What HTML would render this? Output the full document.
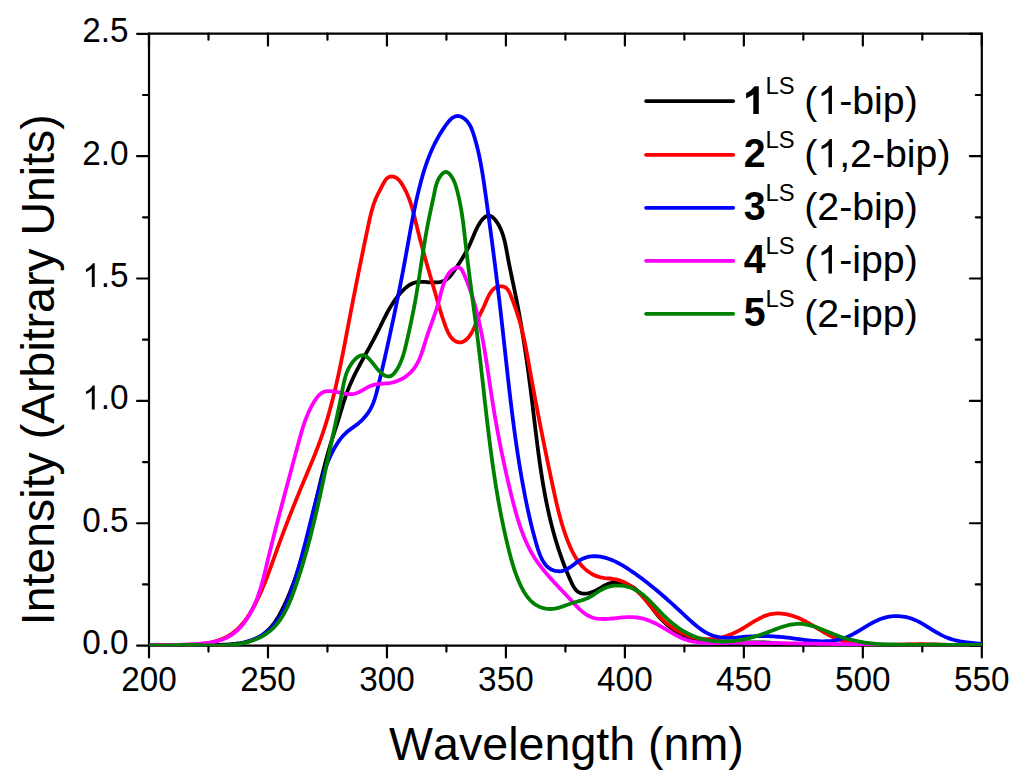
<!DOCTYPE html>
<html><head><meta charset="utf-8"><style>
html,body{margin:0;padding:0;background:#fff;width:1024px;height:780px;overflow:hidden}
svg{display:block}
text{font-family:"Liberation Sans",sans-serif;fill:#000;font-kerning:none}
</style></head><body>
<svg width="1024" height="780" viewBox="0 0 1024 780">
<rect width="1024" height="780" fill="#fff"/>
<defs><clipPath id="pc"><rect x="149" y="0" width="832.8" height="646.0"/></clipPath></defs>
<path d="M149.0,645.6 L149.0,33.7 L981.8,33.7 L981.8,645.6 Z" fill="none" stroke="#000" stroke-width="2.2" stroke-linejoin="round"/>
<line x1="149.00" y1="645.6" x2="149.00" y2="657.5" stroke="#000" stroke-width="2.2" stroke-linecap="round"/>
<line x1="149.00" y1="33.7" x2="149.00" y2="45.6" stroke="#000" stroke-width="2.2" stroke-linecap="round"/>
<line x1="208.49" y1="645.6" x2="208.49" y2="651.6" stroke="#000" stroke-width="2.2" stroke-linecap="round"/>
<line x1="208.49" y1="33.7" x2="208.49" y2="39.7" stroke="#000" stroke-width="2.2" stroke-linecap="round"/>
<line x1="267.97" y1="645.6" x2="267.97" y2="657.5" stroke="#000" stroke-width="2.2" stroke-linecap="round"/>
<line x1="267.97" y1="33.7" x2="267.97" y2="45.6" stroke="#000" stroke-width="2.2" stroke-linecap="round"/>
<line x1="327.46" y1="645.6" x2="327.46" y2="651.6" stroke="#000" stroke-width="2.2" stroke-linecap="round"/>
<line x1="327.46" y1="33.7" x2="327.46" y2="39.7" stroke="#000" stroke-width="2.2" stroke-linecap="round"/>
<line x1="386.94" y1="645.6" x2="386.94" y2="657.5" stroke="#000" stroke-width="2.2" stroke-linecap="round"/>
<line x1="386.94" y1="33.7" x2="386.94" y2="45.6" stroke="#000" stroke-width="2.2" stroke-linecap="round"/>
<line x1="446.43" y1="645.6" x2="446.43" y2="651.6" stroke="#000" stroke-width="2.2" stroke-linecap="round"/>
<line x1="446.43" y1="33.7" x2="446.43" y2="39.7" stroke="#000" stroke-width="2.2" stroke-linecap="round"/>
<line x1="505.91" y1="645.6" x2="505.91" y2="657.5" stroke="#000" stroke-width="2.2" stroke-linecap="round"/>
<line x1="505.91" y1="33.7" x2="505.91" y2="45.6" stroke="#000" stroke-width="2.2" stroke-linecap="round"/>
<line x1="565.40" y1="645.6" x2="565.40" y2="651.6" stroke="#000" stroke-width="2.2" stroke-linecap="round"/>
<line x1="565.40" y1="33.7" x2="565.40" y2="39.7" stroke="#000" stroke-width="2.2" stroke-linecap="round"/>
<line x1="624.89" y1="645.6" x2="624.89" y2="657.5" stroke="#000" stroke-width="2.2" stroke-linecap="round"/>
<line x1="624.89" y1="33.7" x2="624.89" y2="45.6" stroke="#000" stroke-width="2.2" stroke-linecap="round"/>
<line x1="684.37" y1="645.6" x2="684.37" y2="651.6" stroke="#000" stroke-width="2.2" stroke-linecap="round"/>
<line x1="684.37" y1="33.7" x2="684.37" y2="39.7" stroke="#000" stroke-width="2.2" stroke-linecap="round"/>
<line x1="743.86" y1="645.6" x2="743.86" y2="657.5" stroke="#000" stroke-width="2.2" stroke-linecap="round"/>
<line x1="743.86" y1="33.7" x2="743.86" y2="45.6" stroke="#000" stroke-width="2.2" stroke-linecap="round"/>
<line x1="803.34" y1="645.6" x2="803.34" y2="651.6" stroke="#000" stroke-width="2.2" stroke-linecap="round"/>
<line x1="803.34" y1="33.7" x2="803.34" y2="39.7" stroke="#000" stroke-width="2.2" stroke-linecap="round"/>
<line x1="862.83" y1="645.6" x2="862.83" y2="657.5" stroke="#000" stroke-width="2.2" stroke-linecap="round"/>
<line x1="862.83" y1="33.7" x2="862.83" y2="45.6" stroke="#000" stroke-width="2.2" stroke-linecap="round"/>
<line x1="922.31" y1="645.6" x2="922.31" y2="651.6" stroke="#000" stroke-width="2.2" stroke-linecap="round"/>
<line x1="922.31" y1="33.7" x2="922.31" y2="39.7" stroke="#000" stroke-width="2.2" stroke-linecap="round"/>
<line x1="981.80" y1="645.6" x2="981.80" y2="657.5" stroke="#000" stroke-width="2.2" stroke-linecap="round"/>
<line x1="981.80" y1="33.7" x2="981.80" y2="45.6" stroke="#000" stroke-width="2.2" stroke-linecap="round"/>
<line x1="137.1" y1="645.60" x2="149.0" y2="645.60" stroke="#000" stroke-width="2.2" stroke-linecap="round"/>
<line x1="969.9" y1="645.60" x2="981.8" y2="645.60" stroke="#000" stroke-width="2.2" stroke-linecap="round"/>
<line x1="143.0" y1="584.42" x2="149.0" y2="584.42" stroke="#000" stroke-width="2.2" stroke-linecap="round"/>
<line x1="975.8" y1="584.42" x2="981.8" y2="584.42" stroke="#000" stroke-width="2.2" stroke-linecap="round"/>
<line x1="137.1" y1="523.24" x2="149.0" y2="523.24" stroke="#000" stroke-width="2.2" stroke-linecap="round"/>
<line x1="969.9" y1="523.24" x2="981.8" y2="523.24" stroke="#000" stroke-width="2.2" stroke-linecap="round"/>
<line x1="143.0" y1="462.06" x2="149.0" y2="462.06" stroke="#000" stroke-width="2.2" stroke-linecap="round"/>
<line x1="975.8" y1="462.06" x2="981.8" y2="462.06" stroke="#000" stroke-width="2.2" stroke-linecap="round"/>
<line x1="137.1" y1="400.88" x2="149.0" y2="400.88" stroke="#000" stroke-width="2.2" stroke-linecap="round"/>
<line x1="969.9" y1="400.88" x2="981.8" y2="400.88" stroke="#000" stroke-width="2.2" stroke-linecap="round"/>
<line x1="143.0" y1="339.70" x2="149.0" y2="339.70" stroke="#000" stroke-width="2.2" stroke-linecap="round"/>
<line x1="975.8" y1="339.70" x2="981.8" y2="339.70" stroke="#000" stroke-width="2.2" stroke-linecap="round"/>
<line x1="137.1" y1="278.52" x2="149.0" y2="278.52" stroke="#000" stroke-width="2.2" stroke-linecap="round"/>
<line x1="969.9" y1="278.52" x2="981.8" y2="278.52" stroke="#000" stroke-width="2.2" stroke-linecap="round"/>
<line x1="143.0" y1="217.34" x2="149.0" y2="217.34" stroke="#000" stroke-width="2.2" stroke-linecap="round"/>
<line x1="975.8" y1="217.34" x2="981.8" y2="217.34" stroke="#000" stroke-width="2.2" stroke-linecap="round"/>
<line x1="137.1" y1="156.16" x2="149.0" y2="156.16" stroke="#000" stroke-width="2.2" stroke-linecap="round"/>
<line x1="969.9" y1="156.16" x2="981.8" y2="156.16" stroke="#000" stroke-width="2.2" stroke-linecap="round"/>
<line x1="143.0" y1="94.98" x2="149.0" y2="94.98" stroke="#000" stroke-width="2.2" stroke-linecap="round"/>
<line x1="975.8" y1="94.98" x2="981.8" y2="94.98" stroke="#000" stroke-width="2.2" stroke-linecap="round"/>
<line x1="137.1" y1="33.80" x2="149.0" y2="33.80" stroke="#000" stroke-width="2.2" stroke-linecap="round"/>
<line x1="969.9" y1="33.80" x2="981.8" y2="33.80" stroke="#000" stroke-width="2.2" stroke-linecap="round"/>

<g clip-path="url(#pc)">
<path d="M148.71,645.49 L150.91,645.49 L153.08,645.49 L155.24,645.49 L157.38,645.49 L159.50,645.50 L161.60,645.50 L163.69,645.51 L165.76,645.51 L167.82,645.51 L169.87,645.52 L171.91,645.52 L173.94,645.52 L175.96,645.53 L177.97,645.53 L179.98,645.53 L181.98,645.52 L183.98,645.52 L185.98,645.51 L187.97,645.51 L189.97,645.49 L191.97,645.48 L193.97,645.46 L195.98,645.44 L197.99,645.42 L200.01,645.39 L202.03,645.36 L204.07,645.33 L206.12,645.29 L208.17,645.24 L210.24,645.20 L212.33,645.14 L214.43,645.08 L216.54,645.02 L218.68,644.95 L220.82,644.87 L222.98,644.77 L225.15,644.66 L227.31,644.53 L229.48,644.38 L231.64,644.20 L233.79,643.98 L235.94,643.74 L238.06,643.45 L240.17,643.13 L242.26,642.76 L244.32,642.34 L246.35,641.87 L248.34,641.34 L250.30,640.75 L252.22,640.11 L254.10,639.39 L255.93,638.61 L257.70,637.75 L259.42,636.82 L261.09,635.80 L262.69,634.71 L264.25,633.55 L265.74,632.32 L267.19,631.02 L268.59,629.65 L269.94,628.23 L271.25,626.75 L272.51,625.22 L273.73,623.63 L274.91,622.00 L276.05,620.33 L277.16,618.62 L278.23,616.87 L279.27,615.09 L280.28,613.28 L281.26,611.45 L282.22,609.59 L283.15,607.71 L284.05,605.82 L284.94,603.91 L285.81,602.00 L286.66,600.08 L287.49,598.16 L288.31,596.23 L289.11,594.30 L289.90,592.37 L290.68,590.44 L291.44,588.50 L292.19,586.56 L292.92,584.62 L293.64,582.68 L294.35,580.73 L295.04,578.78 L295.72,576.83 L296.40,574.88 L297.06,572.92 L297.70,570.97 L298.34,569.01 L298.97,567.04 L299.58,565.08 L300.19,563.11 L300.79,561.15 L301.38,559.18 L301.96,557.21 L302.53,555.23 L303.09,553.26 L303.64,551.28 L304.19,549.30 L304.73,547.33 L305.26,545.34 L305.79,543.36 L306.31,541.38 L306.82,539.40 L307.33,537.41 L307.83,535.42 L308.33,533.44 L308.82,531.45 L309.31,529.46 L309.79,527.47 L310.27,525.47 L310.75,523.48 L311.22,521.49 L311.69,519.50 L312.16,517.50 L312.63,515.51 L313.09,513.51 L313.55,511.52 L314.02,509.52 L314.48,507.52 L314.94,505.53 L315.40,503.53 L315.86,501.53 L316.32,499.53 L316.78,497.54 L317.24,495.54 L317.71,493.54 L318.17,491.54 L318.64,489.55 L319.11,487.55 L319.58,485.55 L320.06,483.56 L320.54,481.56 L321.02,479.57 L321.51,477.57 L322.00,475.58 L322.49,473.58 L322.99,471.59 L323.50,469.60 L324.01,467.61 L324.53,465.61 L325.05,463.62 L325.58,461.64 L326.12,459.65 L326.66,457.66 L327.21,455.68 L327.77,453.69 L328.34,451.71 L328.92,449.73 L329.50,447.75 L330.09,445.77 L330.70,443.79 L331.31,441.81 L331.93,439.84 L332.55,437.86 L333.18,435.89 L333.81,433.92 L334.45,431.95 L335.08,429.98 L335.71,428.01 L336.35,426.04 L336.98,424.08 L337.61,422.11 L338.23,420.14 L338.84,418.18 L339.45,416.21 L340.05,414.25 L340.64,412.29 L341.23,410.32 L341.82,408.36 L342.41,406.41 L343.00,404.45 L343.60,402.50 L344.21,400.56 L344.84,398.62 L345.48,396.69 L346.15,394.77 L346.83,392.85 L347.55,390.94 L348.29,389.04 L349.05,387.15 L349.84,385.27 L350.65,383.39 L351.49,381.52 L352.34,379.66 L353.21,377.80 L354.11,375.95 L355.01,374.11 L355.93,372.27 L356.87,370.43 L357.82,368.60 L358.78,366.77 L359.75,364.95 L360.73,363.13 L361.71,361.31 L362.70,359.49 L363.70,357.68 L364.70,355.87 L365.70,354.06 L366.71,352.25 L367.71,350.44 L368.71,348.63 L369.71,346.82 L370.70,345.00 L371.69,343.19 L372.67,341.38 L373.64,339.56 L374.61,337.74 L375.56,335.92 L376.50,334.09 L377.43,332.26 L378.34,330.43 L379.25,328.60 L380.14,326.76 L381.04,324.93 L381.93,323.10 L382.83,321.27 L383.74,319.44 L384.65,317.62 L385.57,315.81 L386.51,314.00 L387.47,312.20 L388.45,310.42 L389.46,308.64 L390.49,306.88 L391.55,305.13 L392.64,303.40 L393.77,301.69 L394.95,299.99 L396.16,298.31 L397.42,296.65 L398.73,295.01 L400.09,293.40 L401.51,291.81 L402.98,290.28 L404.51,288.81 L406.09,287.43 L407.73,286.15 L409.42,285.01 L411.18,284.02 L412.99,283.19 L414.86,282.56 L416.79,282.13 L418.77,281.89 L420.79,281.81 L422.86,281.84 L424.95,281.95 L427.06,282.11 L429.18,282.27 L431.31,282.40 L433.42,282.46 L435.52,282.44 L437.58,282.31 L439.59,282.05 L441.53,281.64 L443.39,281.05 L445.15,280.28 L446.79,279.29 L448.32,278.08 L449.73,276.67 L451.06,275.11 L452.32,273.45 L453.54,271.72 L454.74,269.98 L455.92,268.23 L457.09,266.49 L458.24,264.75 L459.38,263.01 L460.50,261.27 L461.60,259.53 L462.67,257.78 L463.73,256.02 L464.76,254.25 L465.76,252.48 L466.73,250.70 L467.67,248.90 L468.58,247.10 L469.46,245.27 L470.30,243.43 L471.11,241.58 L471.89,239.71 L472.66,237.82 L473.44,235.91 L474.24,233.99 L475.07,232.06 L475.95,230.11 L476.90,228.15 L477.92,226.18 L479.04,224.20 L480.26,222.25 L481.56,220.42 L482.95,218.78 L484.40,217.41 L485.92,216.41 L487.49,215.83 L489.09,215.73 L490.67,216.10 L492.18,216.92 L493.62,218.11 L494.98,219.58 L496.24,221.22 L497.41,222.94 L498.48,224.70 L499.46,226.50 L500.36,228.34 L501.19,230.21 L501.94,232.12 L502.63,234.06 L503.26,236.03 L503.84,238.02 L504.37,240.03 L504.86,242.05 L505.32,244.09 L505.74,246.15 L506.15,248.21 L506.53,250.27 L506.91,252.34 L507.28,254.41 L507.66,256.47 L508.03,258.53 L508.42,260.57 L508.82,262.62 L509.22,264.65 L509.62,266.68 L510.03,268.71 L510.45,270.73 L510.86,272.74 L511.29,274.75 L511.71,276.76 L512.13,278.77 L512.56,280.77 L512.98,282.77 L513.41,284.77 L513.83,286.77 L514.25,288.77 L514.66,290.77 L515.08,292.77 L515.49,294.78 L515.89,296.78 L516.29,298.78 L516.69,300.79 L517.08,302.80 L517.47,304.81 L517.85,306.82 L518.23,308.83 L518.61,310.84 L518.98,312.86 L519.34,314.87 L519.71,316.89 L520.07,318.91 L520.42,320.93 L520.78,322.95 L521.13,324.97 L521.47,326.99 L521.81,329.01 L522.15,331.04 L522.49,333.07 L522.82,335.09 L523.14,337.12 L523.47,339.15 L523.79,341.18 L524.11,343.21 L524.42,345.24 L524.74,347.27 L525.05,349.30 L525.35,351.34 L525.66,353.37 L525.96,355.41 L526.25,357.44 L526.55,359.48 L526.84,361.52 L527.13,363.55 L527.42,365.59 L527.70,367.63 L527.99,369.67 L528.26,371.71 L528.54,373.75 L528.82,375.79 L529.09,377.84 L529.36,379.88 L529.63,381.92 L529.90,383.96 L530.16,386.01 L530.42,388.05 L530.68,390.10 L530.94,392.14 L531.20,394.19 L531.45,396.23 L531.71,398.28 L531.96,400.32 L532.21,402.37 L532.46,404.42 L532.70,406.46 L532.95,408.51 L533.20,410.56 L533.44,412.60 L533.68,414.65 L533.93,416.70 L534.17,418.74 L534.42,420.79 L534.66,422.84 L534.91,424.88 L535.15,426.93 L535.40,428.97 L535.65,431.02 L535.89,433.06 L536.14,435.11 L536.40,437.15 L536.65,439.20 L536.90,441.24 L537.16,443.28 L537.42,445.33 L537.68,447.37 L537.95,449.41 L538.22,451.45 L538.49,453.49 L538.76,455.53 L539.04,457.57 L539.32,459.60 L539.60,461.64 L539.89,463.67 L540.19,465.71 L540.48,467.74 L540.79,469.78 L541.09,471.81 L541.41,473.84 L541.72,475.87 L542.04,477.89 L542.37,479.92 L542.71,481.95 L543.04,483.97 L543.39,485.99 L543.74,488.02 L544.10,490.04 L544.46,492.06 L544.84,494.07 L545.21,496.09 L545.60,498.10 L545.99,500.12 L546.39,502.13 L546.80,504.14 L547.22,506.14 L547.64,508.15 L548.07,510.15 L548.51,512.16 L548.96,514.16 L549.42,516.16 L549.89,518.15 L550.37,520.15 L550.85,522.14 L551.35,524.13 L551.85,526.12 L552.37,528.11 L552.89,530.09 L553.43,532.07 L553.97,534.05 L554.53,536.03 L555.10,538.01 L555.68,539.98 L556.27,541.95 L556.87,543.92 L557.48,545.89 L558.11,547.85 L558.75,549.81 L559.39,551.77 L560.06,553.73 L560.73,555.68 L561.42,557.63 L562.12,559.58 L562.83,561.52 L563.56,563.47 L564.30,565.40 L565.05,567.34 L565.82,569.28 L566.60,571.21 L567.39,573.13 L568.20,575.06 L569.03,576.98 L569.87,578.90 L570.72,580.81 L571.59,582.73 L572.49,584.61 L573.45,586.42 L574.49,588.12 L575.63,589.66 L576.91,590.99 L578.35,592.08 L579.97,592.89 L581.78,593.38 L583.73,593.60 L585.78,593.56 L587.89,593.29 L590.02,592.81 L592.12,592.16 L594.14,591.35 L596.08,590.43 L597.94,589.42 L599.76,588.36 L601.54,587.28 L603.32,586.24 L605.12,585.26 L606.95,584.38 L608.84,583.64 L610.81,583.07 L612.86,582.69 L614.96,582.48 L617.09,582.44 L619.22,582.55 L621.34,582.82 L623.43,583.22 L625.45,583.76 L627.40,584.43 L629.26,585.21 L631.04,586.10 L632.74,587.10 L634.38,588.19 L635.95,589.37 L637.47,590.63 L638.94,591.97 L640.35,593.38 L641.73,594.84 L643.07,596.36 L644.39,597.93 L645.68,599.53 L646.95,601.17 L648.20,602.83 L649.45,604.51 L650.70,606.19 L651.95,607.89 L653.21,609.58 L654.49,611.25 L655.78,612.91 L657.10,614.55 L658.45,616.15 L659.84,617.71 L661.26,619.24 L662.72,620.73 L664.20,622.17 L665.72,623.58 L667.27,624.94 L668.85,626.26 L670.46,627.53 L672.10,628.76 L673.77,629.94 L675.47,631.07 L677.19,632.15 L678.94,633.18 L680.72,634.16 L682.52,635.09 L684.35,635.96 L686.20,636.78 L688.07,637.54 L689.97,638.24 L691.89,638.89 L693.83,639.48 L695.79,640.01 L697.77,640.50 L699.76,640.93 L701.77,641.32 L703.79,641.66 L705.83,641.96 L707.88,642.22 L709.93,642.44 L712.00,642.63 L714.07,642.78 L716.15,642.90 L718.23,643.00 L720.31,643.06 L722.40,643.10 L724.48,643.12 L726.57,643.12 L728.65,643.10 L730.72,643.06 L732.80,643.01 L734.86,642.95 L736.92,642.88 L738.96,642.81 L741.00,642.73 L743.02,642.65 L745.04,642.57 L747.05,642.49 L749.05,642.42 L751.05,642.36 L753.05,642.32 L755.04,642.29 L757.05,642.28 L759.05,642.30 L761.06,642.34 L763.08,642.41 L765.11,642.51 L767.14,642.63 L769.19,642.77 L771.23,642.93 L773.29,643.10 L775.34,643.28 L777.40,643.45 L779.46,643.63 L781.52,643.80 L783.59,643.96 L785.65,644.11 L787.71,644.24 L789.77,644.37 L791.83,644.48 L793.89,644.57 L795.95,644.66 L798.01,644.74 L800.07,644.81 L802.13,644.86 L804.19,644.91 L806.24,644.95 L808.30,644.98 L810.36,645.00 L812.41,645.02 L814.47,645.03 L816.53,645.04 L818.58,645.03 L820.64,645.03 L822.69,645.02 L824.75,645.00 L826.80,644.98 L828.86,644.96 L830.91,644.93 L832.97,644.91 L835.02,644.88 L837.08,644.85 L839.13,644.82 L841.19,644.79 L843.24,644.76 L845.30,644.73 L847.35,644.70 L849.40,644.68 L851.46,644.66 L853.52,644.64 L855.57,644.62 L857.63,644.60 L859.68,644.59 L861.74,644.58 L863.79,644.56 L865.85,644.56 L867.90,644.55 L869.96,644.55 L872.02,644.54 L874.07,644.54 L876.13,644.54 L878.18,644.54 L880.24,644.54 L882.30,644.55 L884.35,644.55 L886.41,644.56 L888.47,644.56 L890.52,644.57 L892.58,644.58 L894.64,644.59 L896.69,644.60 L898.75,644.61 L900.81,644.62 L902.86,644.63 L904.92,644.64 L906.98,644.65 L909.03,644.67 L911.09,644.68 L913.15,644.69 L915.20,644.70 L917.26,644.71 L919.32,644.72 L921.37,644.73 L923.43,644.75 L925.49,644.76 L927.54,644.77 L929.60,644.77 L931.66,644.78 L933.71,644.79 L935.77,644.80 L937.83,644.80 L939.88,644.81 L941.94,644.81 L943.99,644.81 L946.05,644.81 L948.11,644.81 L950.16,644.81 L952.22,644.81 L954.28,644.80 L956.33,644.79 L958.39,644.79 L960.44,644.78 L962.50,644.76 L964.55,644.75 L966.61,644.73 L968.66,644.71 L970.72,644.69 L972.77,644.67 L974.83,644.64 L976.88,644.61 L978.94,644.58 L980.99,644.55" fill="none" stroke="#000000" stroke-width="3.8" stroke-linejoin="round" stroke-linecap="round"/>
<path d="M148.91,645.57 L151.24,645.46 L153.55,645.38 L155.84,645.32 L158.11,645.29 L160.37,645.26 L162.60,645.26 L164.83,645.26 L167.04,645.28 L169.25,645.29 L171.45,645.31 L173.65,645.33 L175.84,645.34 L178.04,645.34 L180.24,645.33 L182.45,645.31 L184.66,645.27 L186.89,645.21 L189.13,645.12 L191.39,645.01 L193.66,644.86 L195.94,644.69 L198.22,644.47 L200.51,644.22 L202.79,643.92 L205.06,643.58 L207.33,643.18 L209.58,642.74 L211.80,642.24 L214.01,641.68 L216.19,641.05 L218.33,640.37 L220.44,639.62 L222.51,638.79 L224.53,637.89 L226.51,636.92 L228.43,635.86 L230.30,634.72 L232.10,633.50 L233.85,632.19 L235.54,630.81 L237.18,629.36 L238.76,627.83 L240.29,626.25 L241.77,624.60 L243.21,622.90 L244.60,621.14 L245.94,619.34 L247.25,617.50 L248.51,615.62 L249.73,613.70 L250.92,611.75 L252.07,609.78 L253.19,607.78 L254.28,605.77 L255.34,603.75 L256.37,601.71 L257.37,599.67 L258.35,597.63 L259.31,595.58 L260.24,593.53 L261.16,591.47 L262.05,589.40 L262.93,587.34 L263.78,585.27 L264.63,583.19 L265.45,581.12 L266.27,579.04 L267.07,576.95 L267.86,574.87 L268.64,572.78 L269.41,570.69 L270.18,568.60 L270.94,566.51 L271.69,564.41 L272.45,562.32 L273.20,560.22 L273.95,558.12 L274.70,556.02 L275.45,553.93 L276.20,551.83 L276.96,549.73 L277.72,547.63 L278.49,545.53 L279.26,543.44 L280.04,541.34 L280.82,539.24 L281.60,537.15 L282.38,535.05 L283.17,532.95 L283.97,530.86 L284.77,528.77 L285.57,526.67 L286.37,524.58 L287.18,522.49 L287.99,520.39 L288.80,518.30 L289.62,516.21 L290.44,514.12 L291.27,512.04 L292.09,509.95 L292.92,507.86 L293.75,505.78 L294.59,503.69 L295.43,501.61 L296.27,499.53 L297.11,497.44 L297.96,495.36 L298.81,493.29 L299.66,491.21 L300.51,489.13 L301.37,487.06 L302.23,484.98 L303.09,482.91 L303.95,480.84 L304.81,478.77 L305.68,476.70 L306.55,474.64 L307.42,472.57 L308.28,470.51 L309.15,468.44 L310.01,466.37 L310.87,464.31 L311.72,462.24 L312.57,460.17 L313.42,458.10 L314.26,456.03 L315.09,453.95 L315.91,451.87 L316.72,449.79 L317.53,447.71 L318.32,445.62 L319.10,443.53 L319.87,441.43 L320.63,439.33 L321.38,437.23 L322.11,435.12 L322.83,433.00 L323.54,430.88 L324.23,428.76 L324.92,426.63 L325.59,424.50 L326.25,422.37 L326.90,420.23 L327.54,418.09 L328.17,415.94 L328.79,413.79 L329.39,411.64 L329.99,409.48 L330.58,407.32 L331.16,405.16 L331.74,402.99 L332.30,400.82 L332.85,398.65 L333.40,396.48 L333.94,394.30 L334.47,392.12 L334.99,389.94 L335.51,387.75 L336.02,385.57 L336.52,383.38 L337.02,381.19 L337.51,378.99 L337.99,376.80 L338.47,374.60 L338.94,372.41 L339.41,370.21 L339.87,368.01 L340.33,365.81 L340.79,363.60 L341.24,361.40 L341.68,359.20 L342.13,356.99 L342.57,354.79 L343.00,352.58 L343.44,350.37 L343.87,348.16 L344.30,345.96 L344.72,343.75 L345.15,341.54 L345.57,339.33 L345.99,337.12 L346.41,334.92 L346.83,332.71 L347.25,330.50 L347.67,328.29 L348.09,326.09 L348.51,323.88 L348.93,321.68 L349.35,319.48 L349.77,317.27 L350.19,315.07 L350.62,312.87 L351.04,310.67 L351.46,308.47 L351.89,306.27 L352.32,304.08 L352.74,301.88 L353.17,299.68 L353.60,297.49 L354.03,295.29 L354.46,293.10 L354.90,290.91 L355.33,288.71 L355.76,286.52 L356.20,284.33 L356.63,282.13 L357.07,279.94 L357.51,277.75 L357.95,275.56 L358.39,273.37 L358.83,271.17 L359.27,268.98 L359.72,266.79 L360.16,264.60 L360.61,262.41 L361.06,260.21 L361.50,258.02 L361.95,255.83 L362.40,253.64 L362.86,251.44 L363.31,249.25 L363.76,247.06 L364.22,244.86 L364.68,242.67 L365.13,240.47 L365.59,238.28 L366.05,236.08 L366.51,233.89 L366.98,231.69 L367.44,229.49 L367.91,227.29 L368.37,225.09 L368.84,222.89 L369.32,220.69 L369.81,218.50 L370.32,216.31 L370.85,214.13 L371.40,211.97 L371.99,209.81 L372.61,207.68 L373.27,205.56 L373.97,203.46 L374.73,201.38 L375.54,199.32 L376.41,197.29 L377.33,195.28 L378.30,193.28 L379.31,191.28 L380.35,189.27 L381.42,187.24 L382.52,185.18 L383.63,183.09 L384.80,181.06 L386.11,179.24 L387.62,177.78 L389.40,176.83 L391.44,176.47 L393.56,176.68 L395.59,177.40 L397.40,178.58 L399.00,180.12 L400.44,181.91 L401.75,183.85 L402.97,185.85 L404.11,187.86 L405.18,189.89 L406.19,191.93 L407.13,193.98 L408.01,196.05 L408.84,198.13 L409.62,200.22 L410.36,202.32 L411.05,204.43 L411.71,206.55 L412.33,208.68 L412.93,210.82 L413.51,212.96 L414.06,215.11 L414.60,217.26 L415.13,219.42 L415.65,221.59 L416.18,223.75 L416.70,225.92 L417.23,228.09 L417.77,230.27 L418.32,232.44 L418.87,234.62 L419.43,236.79 L419.99,238.97 L420.56,241.15 L421.14,243.33 L421.72,245.50 L422.31,247.68 L422.90,249.86 L423.49,252.04 L424.09,254.21 L424.70,256.39 L425.30,258.57 L425.91,260.74 L426.52,262.91 L427.14,265.08 L427.75,267.25 L428.37,269.42 L428.99,271.58 L429.61,273.74 L430.24,275.90 L430.86,278.06 L431.48,280.21 L432.11,282.36 L432.73,284.51 L433.35,286.65 L433.97,288.79 L434.59,290.93 L435.21,293.06 L435.83,295.19 L436.44,297.31 L437.05,299.42 L437.66,301.54 L438.27,303.65 L438.89,305.75 L439.51,307.86 L440.14,309.98 L440.78,312.10 L441.44,314.23 L442.11,316.37 L442.82,318.53 L443.54,320.70 L444.30,322.89 L445.09,325.10 L445.92,327.34 L446.80,329.56 L447.76,331.74 L448.81,333.83 L449.99,335.80 L451.30,337.60 L452.77,339.20 L454.43,340.55 L456.28,341.61 L458.27,342.28 L460.30,342.45 L462.29,342.03 L464.19,341.12 L465.96,339.86 L467.57,338.36 L469.02,336.67 L470.35,334.83 L471.56,332.86 L472.67,330.79 L473.70,328.66 L474.67,326.49 L475.60,324.31 L476.50,322.16 L477.40,320.06 L478.30,318.04 L479.22,316.10 L480.15,314.21 L481.09,312.34 L482.03,310.45 L482.97,308.52 L483.91,306.53 L484.84,304.43 L485.76,302.24 L486.71,299.99 L487.71,297.75 L488.77,295.56 L489.93,293.49 L491.21,291.57 L492.63,289.88 L494.22,288.46 L496.01,287.36 L497.99,286.64 L500.10,286.32 L502.22,286.42 L504.24,286.95 L506.05,287.95 L507.57,289.41 L508.81,291.26 L509.86,293.35 L510.78,295.58 L511.65,297.81 L512.49,300.02 L513.31,302.19 L514.11,304.35 L514.88,306.49 L515.63,308.61 L516.36,310.73 L517.07,312.84 L517.75,314.96 L518.41,317.08 L519.05,319.20 L519.66,321.34 L520.26,323.48 L520.83,325.63 L521.39,327.78 L521.93,329.95 L522.46,332.11 L522.97,334.29 L523.46,336.47 L523.94,338.65 L524.41,340.84 L524.87,343.03 L525.32,345.23 L525.75,347.43 L526.18,349.63 L526.60,351.83 L527.02,354.04 L527.43,356.25 L527.83,358.46 L528.23,360.67 L528.63,362.89 L529.02,365.10 L529.42,367.31 L529.81,369.53 L530.21,371.74 L530.61,373.95 L531.00,376.17 L531.40,378.38 L531.81,380.59 L532.21,382.80 L532.61,385.01 L533.02,387.21 L533.43,389.42 L533.84,391.63 L534.25,393.84 L534.66,396.04 L535.07,398.25 L535.49,400.45 L535.90,402.66 L536.32,404.86 L536.74,407.06 L537.16,409.27 L537.58,411.47 L538.00,413.67 L538.43,415.87 L538.86,418.07 L539.28,420.27 L539.71,422.47 L540.14,424.67 L540.57,426.87 L541.01,429.07 L541.44,431.27 L541.88,433.47 L542.32,435.66 L542.75,437.86 L543.20,440.06 L543.64,442.26 L544.08,444.45 L544.52,446.65 L544.97,448.84 L545.42,451.04 L545.87,453.23 L546.32,455.43 L546.77,457.62 L547.22,459.82 L547.68,462.01 L548.13,464.20 L548.59,466.40 L549.05,468.59 L549.51,470.78 L549.97,472.98 L550.43,475.17 L550.89,477.36 L551.36,479.55 L551.83,481.75 L552.29,483.94 L552.76,486.13 L553.23,488.32 L553.71,490.51 L554.18,492.71 L554.66,494.90 L555.14,497.09 L555.63,499.27 L556.13,501.46 L556.63,503.65 L557.15,505.83 L557.67,508.01 L558.21,510.18 L558.75,512.36 L559.31,514.53 L559.89,516.69 L560.47,518.86 L561.08,521.01 L561.70,523.17 L562.34,525.32 L563.01,527.46 L563.69,529.60 L564.39,531.73 L565.11,533.85 L565.86,535.97 L566.64,538.09 L567.44,540.19 L568.26,542.29 L569.12,544.38 L570.00,546.46 L570.92,548.52 L571.88,550.56 L572.89,552.58 L573.94,554.56 L575.05,556.51 L576.21,558.41 L577.44,560.27 L578.74,562.08 L580.11,563.83 L581.55,565.51 L583.07,567.13 L584.68,568.67 L586.38,570.13 L588.17,571.51 L590.04,572.79 L591.97,573.95 L593.97,574.99 L596.03,575.90 L598.14,576.66 L600.29,577.27 L602.47,577.72 L604.68,578.04 L606.90,578.29 L609.14,578.51 L611.38,578.74 L613.61,579.02 L615.82,579.41 L618.01,579.94 L620.17,580.61 L622.30,581.42 L624.38,582.35 L626.41,583.38 L628.38,584.52 L630.29,585.74 L632.13,587.04 L633.90,588.40 L635.60,589.82 L637.25,591.30 L638.85,592.82 L640.40,594.39 L641.91,596.00 L643.39,597.64 L644.84,599.31 L646.28,601.01 L647.69,602.71 L649.10,604.43 L650.51,606.16 L651.93,607.89 L653.35,609.61 L654.79,611.33 L656.25,613.02 L657.75,614.70 L659.28,616.35 L660.85,617.97 L662.46,619.55 L664.13,621.09 L665.85,622.59 L667.62,624.03 L669.43,625.43 L671.28,626.78 L673.17,628.07 L675.10,629.31 L677.06,630.48 L679.05,631.59 L681.07,632.64 L683.12,633.61 L685.19,634.52 L687.29,635.35 L689.40,636.11 L691.53,636.79 L693.67,637.39 L695.82,637.90 L697.98,638.33 L700.15,638.66 L702.32,638.91 L704.49,639.07 L706.67,639.14 L708.84,639.13 L711.02,639.03 L713.19,638.85 L715.35,638.58 L717.52,638.24 L719.67,637.82 L721.82,637.32 L723.96,636.75 L726.08,636.10 L728.20,635.39 L730.30,634.60 L732.39,633.74 L734.47,632.82 L736.53,631.83 L738.57,630.77 L740.59,629.66 L742.59,628.49 L744.59,627.29 L746.57,626.07 L748.55,624.84 L750.52,623.60 L752.49,622.39 L754.46,621.20 L756.43,620.05 L758.41,618.95 L760.40,617.92 L762.41,616.97 L764.43,616.11 L766.47,615.35 L768.53,614.71 L770.61,614.20 L772.72,613.83 L774.84,613.58 L776.99,613.47 L779.15,613.47 L781.32,613.59 L783.50,613.82 L785.68,614.15 L787.85,614.58 L790.03,615.11 L792.19,615.73 L794.34,616.43 L796.47,617.20 L798.58,618.05 L800.67,618.96 L802.74,619.94 L804.77,620.97 L806.78,622.05 L808.77,623.16 L810.74,624.31 L812.70,625.48 L814.65,626.66 L816.59,627.85 L818.53,629.04 L820.46,630.23 L822.39,631.39 L824.33,632.53 L826.28,633.64 L828.23,634.71 L830.20,635.73 L832.19,636.70 L834.20,637.60 L836.22,638.44 L838.27,639.22 L840.33,639.93 L842.41,640.59 L844.51,641.20 L846.62,641.75 L848.75,642.26 L850.90,642.71 L853.06,643.12 L855.23,643.48 L857.41,643.80 L859.61,644.08 L861.82,644.33 L864.03,644.53 L866.26,644.71 L868.50,644.85 L870.74,644.96 L872.99,645.04 L875.25,645.10 L877.51,645.14 L879.78,645.16 L882.06,645.15 L884.33,645.13 L886.61,645.10 L888.90,645.05 L891.18,644.99 L893.47,644.93 L895.75,644.85 L898.04,644.78 L900.32,644.70 L902.60,644.62 L904.88,644.54 L907.15,644.47 L909.42,644.41 L911.69,644.35 L913.95,644.31 L916.20,644.28 L918.45,644.26 L920.69,644.26 L922.92,644.26 L925.15,644.29 L927.37,644.32 L929.59,644.35 L931.81,644.40 L934.02,644.45 L936.24,644.51 L938.45,644.57 L940.66,644.63 L942.87,644.69 L945.08,644.75 L947.29,644.81 L949.51,644.86 L951.73,644.91 L953.95,644.95 L956.18,644.98 L958.41,645.00 L960.65,645.02 L962.89,645.02 L965.14,645.00 L967.40,644.97 L969.67,644.93 L971.95,644.86 L974.23,644.78 L976.53,644.68 L978.84,644.55 L981.16,644.40" fill="none" stroke="#ff0000" stroke-width="3.8" stroke-linejoin="round" stroke-linecap="round"/>
<path d="M149.02,645.36 L151.33,645.49 L153.64,645.59 L155.96,645.65 L158.28,645.67 L160.61,645.67 L162.94,645.65 L165.27,645.60 L167.61,645.54 L169.94,645.47 L172.28,645.39 L174.61,645.31 L176.95,645.22 L179.29,645.14 L181.62,645.07 L183.95,645.01 L186.28,644.97 L188.61,644.94 L190.94,644.94 L193.26,644.97 L195.58,645.02 L197.89,645.09 L200.21,645.17 L202.52,645.26 L204.83,645.35 L207.15,645.44 L209.46,645.52 L211.78,645.58 L214.11,645.63 L216.43,645.66 L218.76,645.65 L221.10,645.61 L223.45,645.53 L225.80,645.41 L228.16,645.24 L230.52,645.01 L232.88,644.73 L235.23,644.40 L237.57,644.02 L239.90,643.57 L242.21,643.07 L244.50,642.50 L246.76,641.87 L248.99,641.18 L251.19,640.42 L253.35,639.59 L255.46,638.69 L257.53,637.72 L259.54,636.68 L261.50,635.56 L263.40,634.36 L265.23,633.08 L267.00,631.73 L268.69,630.29 L270.32,628.78 L271.88,627.19 L273.38,625.54 L274.82,623.82 L276.20,622.03 L277.52,620.19 L278.79,618.29 L280.01,616.34 L281.18,614.34 L282.30,612.30 L283.38,610.22 L284.42,608.10 L285.42,605.95 L286.38,603.77 L287.31,601.56 L288.20,599.33 L289.07,597.08 L289.91,594.81 L290.72,592.54 L291.51,590.25 L292.28,587.96 L293.04,585.67 L293.78,583.39 L294.50,581.11 L295.21,578.83 L295.91,576.56 L296.60,574.29 L297.28,572.03 L297.94,569.77 L298.59,567.51 L299.24,565.26 L299.87,563.00 L300.50,560.76 L301.12,558.51 L301.73,556.27 L302.33,554.03 L302.92,551.80 L303.51,549.56 L304.10,547.33 L304.67,545.10 L305.25,542.87 L305.82,540.64 L306.38,538.41 L306.94,536.19 L307.50,533.96 L308.06,531.74 L308.62,529.51 L309.17,527.29 L309.73,525.07 L310.28,522.84 L310.84,520.62 L311.39,518.40 L311.95,516.17 L312.51,513.95 L313.08,511.72 L313.64,509.49 L314.21,507.27 L314.79,505.04 L315.36,502.80 L315.95,500.57 L316.54,498.33 L317.14,496.10 L317.74,493.86 L318.35,491.61 L318.97,489.37 L319.60,487.12 L320.23,484.87 L320.88,482.62 L321.54,480.37 L322.22,478.12 L322.92,475.87 L323.64,473.63 L324.38,471.40 L325.14,469.18 L325.93,466.96 L326.75,464.76 L327.61,462.58 L328.49,460.40 L329.41,458.25 L330.37,456.11 L331.37,453.99 L332.41,451.90 L333.50,449.83 L334.63,447.78 L335.81,445.76 L337.04,443.77 L338.33,441.83 L339.68,439.94 L341.10,438.10 L342.59,436.33 L344.15,434.64 L345.79,433.04 L347.51,431.53 L349.30,430.10 L351.15,428.73 L353.03,427.39 L354.92,426.04 L356.78,424.64 L358.61,423.18 L360.37,421.63 L362.07,420.01 L363.70,418.31 L365.25,416.55 L366.72,414.72 L368.09,412.83 L369.36,410.89 L370.52,408.89 L371.58,406.84 L372.54,404.75 L373.41,402.62 L374.21,400.45 L374.94,398.26 L375.61,396.04 L376.25,393.80 L376.84,391.54 L377.41,389.28 L377.97,387.01 L378.52,384.74 L379.07,382.46 L379.61,380.19 L380.15,377.92 L380.69,375.65 L381.23,373.37 L381.76,371.10 L382.29,368.83 L382.82,366.55 L383.35,364.28 L383.87,362.00 L384.39,359.73 L384.91,357.46 L385.42,355.18 L385.93,352.91 L386.44,350.63 L386.95,348.36 L387.46,346.09 L387.96,343.81 L388.46,341.54 L388.96,339.27 L389.46,336.99 L389.95,334.72 L390.44,332.45 L390.93,330.18 L391.42,327.90 L391.91,325.63 L392.39,323.36 L392.88,321.09 L393.36,318.82 L393.84,316.55 L394.32,314.28 L394.79,312.01 L395.27,309.74 L395.74,307.47 L396.21,305.20 L396.68,302.93 L397.14,300.65 L397.61,298.38 L398.07,296.11 L398.53,293.84 L398.98,291.56 L399.44,289.29 L399.89,287.01 L400.34,284.74 L400.79,282.46 L401.23,280.18 L401.67,277.90 L402.11,275.62 L402.55,273.33 L402.99,271.05 L403.42,268.76 L403.85,266.47 L404.27,264.18 L404.69,261.89 L405.11,259.59 L405.53,257.29 L405.95,255.00 L406.36,252.70 L406.77,250.39 L407.19,248.09 L407.60,245.79 L408.01,243.48 L408.42,241.18 L408.84,238.88 L409.25,236.57 L409.67,234.27 L410.09,231.97 L410.51,229.66 L410.94,227.36 L411.37,225.06 L411.80,222.77 L412.24,220.47 L412.68,218.18 L413.13,215.88 L413.59,213.60 L414.05,211.31 L414.52,209.03 L414.99,206.75 L415.47,204.47 L415.97,202.20 L416.47,199.93 L416.98,197.67 L417.49,195.41 L418.02,193.15 L418.56,190.90 L419.11,188.66 L419.68,186.42 L420.25,184.18 L420.84,181.96 L421.44,179.74 L422.05,177.52 L422.68,175.31 L423.33,173.11 L424.00,170.91 L424.69,168.72 L425.40,166.53 L426.14,164.36 L426.90,162.18 L427.69,160.02 L428.50,157.86 L429.34,155.71 L430.22,153.56 L431.13,151.42 L432.07,149.29 L433.04,147.17 L434.06,145.05 L435.11,142.94 L436.20,140.83 L437.33,138.73 L438.50,136.64 L439.71,134.56 L440.98,132.48 L442.28,130.41 L443.64,128.35 L445.04,126.30 L446.50,124.26 L448.01,122.30 L449.58,120.48 L451.22,118.87 L452.93,117.55 L454.72,116.59 L456.58,116.05 L458.54,116.02 L460.57,116.52 L462.60,117.49 L464.51,118.79 L466.21,120.31 L467.71,122.00 L469.03,123.84 L470.19,125.82 L471.22,127.90 L472.13,130.07 L472.95,132.31 L473.70,134.58 L474.41,136.88 L475.08,139.17 L475.73,141.47 L476.35,143.76 L476.94,146.05 L477.51,148.35 L478.06,150.64 L478.58,152.94 L479.09,155.23 L479.57,157.53 L480.04,159.82 L480.48,162.12 L480.92,164.41 L481.33,166.71 L481.73,169.00 L482.12,171.30 L482.50,173.59 L482.87,175.89 L483.22,178.18 L483.57,180.48 L483.91,182.77 L484.25,185.07 L484.58,187.36 L484.91,189.66 L485.23,191.96 L485.55,194.25 L485.87,196.55 L486.19,198.85 L486.51,201.15 L486.83,203.44 L487.15,205.74 L487.47,208.04 L487.78,210.34 L488.10,212.64 L488.41,214.94 L488.72,217.24 L489.04,219.54 L489.35,221.84 L489.66,224.14 L489.97,226.44 L490.28,228.74 L490.58,231.04 L490.89,233.34 L491.19,235.65 L491.50,237.95 L491.80,240.25 L492.10,242.56 L492.40,244.86 L492.70,247.16 L493.00,249.47 L493.30,251.77 L493.60,254.08 L493.89,256.38 L494.19,258.69 L494.48,260.99 L494.77,263.30 L495.07,265.61 L495.36,267.92 L495.65,270.22 L495.93,272.53 L496.22,274.84 L496.51,277.15 L496.79,279.46 L497.07,281.77 L497.35,284.08 L497.64,286.39 L497.92,288.70 L498.19,291.01 L498.47,293.32 L498.75,295.64 L499.02,297.95 L499.30,300.26 L499.57,302.58 L499.84,304.89 L500.11,307.20 L500.38,309.52 L500.64,311.84 L500.91,314.15 L501.17,316.47 L501.44,318.78 L501.70,321.10 L501.96,323.42 L502.22,325.74 L502.48,328.06 L502.74,330.38 L502.99,332.69 L503.25,335.01 L503.50,337.33 L503.76,339.65 L504.01,341.97 L504.27,344.29 L504.52,346.61 L504.78,348.93 L505.03,351.26 L505.28,353.58 L505.54,355.90 L505.79,358.22 L506.05,360.54 L506.30,362.86 L506.56,365.18 L506.81,367.50 L507.07,369.82 L507.33,372.14 L507.58,374.46 L507.84,376.78 L508.10,379.10 L508.37,381.42 L508.63,383.73 L508.89,386.05 L509.16,388.37 L509.43,390.69 L509.69,393.00 L509.97,395.32 L510.24,397.63 L510.51,399.95 L510.79,402.26 L511.07,404.58 L511.35,406.89 L511.63,409.20 L511.92,411.51 L512.21,413.82 L512.50,416.13 L512.79,418.44 L513.09,420.75 L513.39,423.06 L513.69,425.37 L513.99,427.67 L514.30,429.98 L514.61,432.28 L514.93,434.58 L515.25,436.88 L515.57,439.18 L515.90,441.48 L516.23,443.78 L516.56,446.08 L516.90,448.37 L517.24,450.67 L517.58,452.96 L517.93,455.25 L518.29,457.54 L518.65,459.83 L519.01,462.12 L519.38,464.41 L519.75,466.69 L520.13,468.98 L520.51,471.26 L520.90,473.54 L521.29,475.82 L521.69,478.09 L522.09,480.37 L522.50,482.64 L522.91,484.91 L523.33,487.19 L523.75,489.45 L524.18,491.72 L524.62,493.99 L525.06,496.25 L525.51,498.51 L525.97,500.77 L526.43,503.03 L526.89,505.28 L527.37,507.53 L527.85,509.79 L528.34,512.04 L528.83,514.29 L529.34,516.55 L529.86,518.80 L530.38,521.07 L530.92,523.34 L531.48,525.61 L532.04,527.90 L532.62,530.19 L533.22,532.49 L533.83,534.81 L534.46,537.14 L535.10,539.48 L535.77,541.84 L536.45,544.22 L537.16,546.60 L537.90,548.99 L538.69,551.34 L539.52,553.66 L540.42,555.91 L541.40,558.08 L542.46,560.15 L543.62,562.10 L544.88,563.92 L546.26,565.58 L547.76,567.06 L549.40,568.35 L551.19,569.42 L553.12,570.27 L555.17,570.87 L557.30,571.20 L559.47,571.27 L561.67,571.04 L563.86,570.50 L566.01,569.65 L568.11,568.52 L570.18,567.18 L572.23,565.69 L574.26,564.15 L576.30,562.61 L578.36,561.16 L580.44,559.86 L582.56,558.78 L584.71,557.90 L586.89,557.21 L589.09,556.71 L591.30,556.39 L593.53,556.23 L595.77,556.23 L598.01,556.37 L600.24,556.65 L602.46,557.06 L604.67,557.58 L606.86,558.20 L609.04,558.93 L611.20,559.75 L613.33,560.65 L615.45,561.63 L617.55,562.68 L619.64,563.79 L621.70,564.96 L623.74,566.17 L625.77,567.42 L627.77,568.71 L629.76,570.02 L631.72,571.34 L633.67,572.68 L635.60,574.03 L637.50,575.39 L639.39,576.76 L641.26,578.14 L643.12,579.54 L644.96,580.94 L646.79,582.35 L648.61,583.77 L650.41,585.21 L652.20,586.65 L653.98,588.10 L655.75,589.56 L657.51,591.04 L659.26,592.52 L661.01,594.01 L662.74,595.51 L664.48,597.02 L666.21,598.53 L667.93,600.06 L669.65,601.60 L671.37,603.14 L673.09,604.69 L674.81,606.25 L676.52,607.82 L678.24,609.40 L679.96,610.99 L681.69,612.58 L683.42,614.19 L685.15,615.80 L686.89,617.41 L688.64,619.03 L690.39,620.64 L692.16,622.23 L693.95,623.79 L695.76,625.31 L697.59,626.79 L699.44,628.21 L701.32,629.56 L703.24,630.84 L705.18,632.04 L707.16,633.14 L709.18,634.14 L711.25,635.02 L713.35,635.79 L715.51,636.42 L717.71,636.92 L719.95,637.30 L722.24,637.57 L724.55,637.74 L726.89,637.83 L729.26,637.84 L731.65,637.78 L734.04,637.67 L736.45,637.53 L738.86,637.35 L741.27,637.15 L743.67,636.95 L746.06,636.76 L748.44,636.58 L750.80,636.43 L753.14,636.31 L755.46,636.21 L757.77,636.15 L760.06,636.11 L762.35,636.09 L764.62,636.11 L766.89,636.15 L769.16,636.21 L771.42,636.31 L773.68,636.42 L775.95,636.57 L778.22,636.73 L780.49,636.92 L782.77,637.14 L785.06,637.38 L787.36,637.64 L789.68,637.92 L792.00,638.22 L794.34,638.54 L796.68,638.85 L799.03,639.17 L801.38,639.49 L803.74,639.79 L806.10,640.09 L808.46,640.36 L810.82,640.60 L813.17,640.82 L815.53,641.00 L817.87,641.14 L820.21,641.24 L822.54,641.28 L824.86,641.27 L827.17,641.19 L829.47,641.05 L831.75,640.84 L834.01,640.55 L836.26,640.18 L838.49,639.72 L840.70,639.17 L842.88,638.53 L845.04,637.77 L847.18,636.92 L849.30,635.98 L851.40,634.95 L853.48,633.87 L855.55,632.72 L857.61,631.53 L859.66,630.31 L861.71,629.08 L863.76,627.83 L865.81,626.59 L867.87,625.37 L869.93,624.18 L872.00,623.03 L874.09,621.93 L876.19,620.90 L878.31,619.95 L880.46,619.08 L882.63,618.32 L884.82,617.67 L887.04,617.13 L889.28,616.71 L891.53,616.40 L893.80,616.21 L896.07,616.13 L898.34,616.16 L900.60,616.30 L902.86,616.56 L905.11,616.92 L907.34,617.40 L909.55,617.98 L911.73,618.68 L913.89,619.48 L916.01,620.39 L918.10,621.38 L920.18,622.46 L922.23,623.59 L924.27,624.78 L926.29,626.01 L928.31,627.26 L930.33,628.52 L932.35,629.78 L934.38,631.03 L936.41,632.26 L938.46,633.44 L940.52,634.58 L942.61,635.65 L944.72,636.64 L946.86,637.54 L949.03,638.35 L951.23,639.08 L953.45,639.73 L955.69,640.31 L957.96,640.82 L960.23,641.28 L962.52,641.69 L964.83,642.05 L967.13,642.38 L969.45,642.69 L971.76,642.97 L974.08,643.23 L976.39,643.49 L978.69,643.75 L980.98,644.01" fill="none" stroke="#0000ff" stroke-width="3.8" stroke-linejoin="round" stroke-linecap="round"/>
<path d="M148.91,645.47 L150.93,645.46 L152.92,645.45 L154.90,645.43 L156.85,645.41 L158.79,645.38 L160.71,645.35 L162.62,645.31 L164.52,645.27 L166.40,645.22 L168.28,645.17 L170.16,645.12 L172.02,645.06 L173.89,644.99 L175.76,644.93 L177.63,644.86 L179.50,644.78 L181.38,644.71 L183.26,644.62 L185.16,644.54 L187.06,644.45 L188.98,644.36 L190.92,644.27 L192.86,644.17 L194.82,644.06 L196.79,643.94 L198.76,643.80 L200.74,643.64 L202.71,643.46 L204.68,643.26 L206.65,643.02 L208.60,642.76 L210.55,642.45 L212.47,642.11 L214.38,641.72 L216.27,641.29 L218.13,640.80 L219.96,640.26 L221.76,639.66 L223.54,639.01 L225.27,638.29 L226.96,637.50 L228.62,636.63 L230.22,635.70 L231.79,634.70 L233.31,633.62 L234.78,632.48 L236.22,631.29 L237.61,630.03 L238.96,628.72 L240.27,627.35 L241.53,625.94 L242.76,624.48 L243.95,622.97 L245.10,621.43 L246.22,619.85 L247.29,618.24 L248.33,616.60 L249.33,614.93 L250.30,613.23 L251.23,611.52 L252.13,609.79 L252.99,608.04 L253.82,606.28 L254.62,604.51 L255.38,602.74 L256.12,600.95 L256.83,599.16 L257.51,597.36 L258.16,595.55 L258.79,593.74 L259.40,591.92 L259.99,590.09 L260.56,588.26 L261.11,586.43 L261.64,584.59 L262.16,582.74 L262.67,580.89 L263.16,579.04 L263.64,577.19 L264.12,575.33 L264.58,573.47 L265.04,571.61 L265.49,569.75 L265.94,567.88 L266.39,566.02 L266.84,564.16 L267.29,562.29 L267.74,560.43 L268.19,558.57 L268.65,556.71 L269.10,554.85 L269.56,552.99 L270.02,551.13 L270.48,549.27 L270.94,547.41 L271.40,545.55 L271.87,543.69 L272.33,541.84 L272.80,539.98 L273.27,538.12 L273.74,536.27 L274.21,534.41 L274.69,532.56 L275.16,530.70 L275.64,528.85 L276.11,526.99 L276.59,525.14 L277.07,523.29 L277.55,521.43 L278.03,519.58 L278.51,517.73 L278.99,515.87 L279.48,514.02 L279.96,512.17 L280.45,510.32 L280.93,508.46 L281.42,506.61 L281.91,504.76 L282.40,502.91 L282.89,501.06 L283.38,499.21 L283.87,497.35 L284.36,495.50 L284.86,493.65 L285.35,491.80 L285.84,489.95 L286.34,488.09 L286.83,486.24 L287.33,484.39 L287.83,482.54 L288.32,480.69 L288.82,478.83 L289.32,476.98 L289.81,475.13 L290.31,473.27 L290.81,471.42 L291.31,469.57 L291.81,467.71 L292.31,465.86 L292.81,464.00 L293.31,462.15 L293.80,460.29 L294.30,458.44 L294.80,456.58 L295.30,454.72 L295.80,452.87 L296.30,451.01 L296.80,449.15 L297.30,447.29 L297.80,445.43 L298.30,443.58 L298.80,441.72 L299.31,439.86 L299.82,438.00 L300.33,436.15 L300.86,434.30 L301.39,432.45 L301.94,430.61 L302.50,428.77 L303.07,426.94 L303.66,425.11 L304.28,423.30 L304.91,421.49 L305.56,419.69 L306.24,417.90 L306.95,416.12 L307.68,414.35 L308.44,412.60 L309.23,410.86 L310.06,409.13 L310.92,407.41 L311.82,405.71 L312.75,404.03 L313.73,402.36 L314.75,400.71 L315.82,399.10 L316.94,397.56 L318.14,396.11 L319.43,394.79 L320.81,393.63 L322.29,392.65 L323.89,391.89 L325.62,391.37 L327.46,391.10 L329.39,391.04 L331.36,391.14 L333.34,391.37 L335.31,391.69 L337.29,392.08 L339.26,392.51 L341.22,392.94 L343.16,393.36 L345.09,393.72 L347.01,394.00 L348.90,394.18 L350.77,394.22 L352.60,394.09 L354.41,393.77 L356.19,393.25 L357.94,392.56 L359.67,391.73 L361.39,390.81 L363.11,389.84 L364.84,388.84 L366.57,387.87 L368.33,386.94 L370.11,386.12 L371.92,385.42 L373.78,384.87 L375.66,384.46 L377.57,384.15 L379.49,383.93 L381.43,383.76 L383.37,383.61 L385.31,383.46 L387.25,383.29 L389.16,383.06 L391.05,382.76 L392.91,382.36 L394.75,381.86 L396.54,381.28 L398.30,380.60 L400.02,379.85 L401.70,379.00 L403.32,378.08 L404.90,377.08 L406.43,376.01 L407.89,374.86 L409.30,373.64 L410.65,372.35 L411.93,371.00 L413.14,369.59 L414.28,368.11 L415.35,366.58 L416.34,364.99 L417.27,363.35 L418.15,361.67 L418.97,359.95 L419.74,358.19 L420.46,356.40 L421.15,354.58 L421.81,352.74 L422.44,350.88 L423.05,349.00 L423.65,347.11 L424.23,345.22 L424.81,343.33 L425.39,341.43 L425.97,339.55 L426.56,337.67 L427.17,335.81 L427.79,333.97 L428.42,332.13 L429.06,330.30 L429.70,328.49 L430.35,326.68 L431.00,324.88 L431.65,323.09 L432.29,321.31 L432.94,319.52 L433.57,317.75 L434.20,315.98 L434.81,314.20 L435.42,312.43 L436.01,310.66 L436.58,308.89 L437.13,307.12 L437.67,305.35 L438.18,303.57 L438.67,301.79 L439.14,300.00 L439.60,298.19 L440.06,296.37 L440.53,294.52 L441.01,292.65 L441.53,290.74 L442.09,288.79 L442.69,286.79 L443.36,284.75 L444.09,282.70 L444.89,280.65 L445.79,278.64 L446.77,276.69 L447.87,274.84 L449.08,273.11 L450.41,271.53 L451.88,270.13 L453.47,268.95 L455.12,268.05 L456.74,267.50 L458.27,267.39 L459.62,267.77 L460.78,268.64 L461.78,269.88 L462.67,271.40 L463.47,273.09 L464.24,274.84 L464.99,276.60 L465.73,278.37 L466.44,280.14 L467.15,281.91 L467.83,283.70 L468.50,285.48 L469.16,287.28 L469.80,289.07 L470.43,290.88 L471.04,292.68 L471.64,294.50 L472.22,296.31 L472.79,298.13 L473.35,299.96 L473.90,301.79 L474.43,303.62 L474.95,305.46 L475.46,307.30 L475.96,309.15 L476.45,311.00 L476.92,312.85 L477.39,314.71 L477.84,316.57 L478.29,318.43 L478.72,320.30 L479.15,322.17 L479.57,324.04 L479.97,325.92 L480.37,327.80 L480.77,329.68 L481.15,331.56 L481.53,333.44 L481.89,335.33 L482.26,337.22 L482.61,339.11 L482.96,341.01 L483.30,342.90 L483.64,344.80 L483.97,346.70 L484.30,348.60 L484.62,350.50 L484.94,352.40 L485.25,354.30 L485.56,356.21 L485.86,358.11 L486.16,360.02 L486.46,361.93 L486.76,363.83 L487.05,365.74 L487.34,367.65 L487.63,369.56 L487.92,371.46 L488.20,373.37 L488.49,375.28 L488.77,377.19 L489.06,379.09 L489.34,381.00 L489.62,382.90 L489.91,384.81 L490.19,386.71 L490.48,388.61 L490.77,390.52 L491.06,392.42 L491.35,394.31 L491.64,396.21 L491.94,398.11 L492.24,400.00 L492.54,401.90 L492.84,403.79 L493.15,405.68 L493.46,407.57 L493.77,409.45 L494.08,411.34 L494.40,413.23 L494.72,415.11 L495.04,416.99 L495.37,418.88 L495.70,420.76 L496.03,422.64 L496.36,424.52 L496.70,426.39 L497.04,428.27 L497.38,430.15 L497.72,432.02 L498.07,433.90 L498.42,435.77 L498.78,437.65 L499.14,439.52 L499.50,441.39 L499.86,443.27 L500.23,445.14 L500.60,447.01 L500.97,448.88 L501.35,450.75 L501.73,452.62 L502.11,454.49 L502.50,456.36 L502.89,458.23 L503.28,460.10 L503.68,461.97 L504.08,463.84 L504.49,465.71 L504.89,467.58 L505.30,469.45 L505.72,471.32 L506.14,473.19 L506.56,475.06 L506.99,476.93 L507.42,478.80 L507.85,480.67 L508.29,482.54 L508.73,484.41 L509.17,486.29 L509.62,488.16 L510.07,490.03 L510.53,491.91 L510.99,493.78 L511.45,495.66 L511.92,497.53 L512.39,499.41 L512.87,501.29 L513.35,503.16 L513.84,505.04 L514.34,506.92 L514.84,508.79 L515.35,510.66 L515.87,512.53 L516.40,514.39 L516.94,516.25 L517.49,518.11 L518.05,519.96 L518.63,521.80 L519.22,523.64 L519.82,525.47 L520.44,527.29 L521.07,529.11 L521.72,530.91 L522.38,532.71 L523.07,534.50 L523.77,536.28 L524.49,538.05 L525.23,539.80 L525.98,541.55 L526.77,543.28 L527.57,545.00 L528.39,546.71 L529.24,548.40 L530.11,550.08 L531.01,551.74 L531.93,553.38 L532.88,555.01 L533.85,556.63 L534.86,558.22 L535.89,559.80 L536.94,561.37 L538.03,562.91 L539.13,564.44 L540.26,565.96 L541.42,567.46 L542.59,568.95 L543.79,570.43 L545.00,571.90 L546.23,573.36 L547.48,574.81 L548.74,576.26 L550.01,577.70 L551.30,579.13 L552.60,580.56 L553.91,581.98 L555.23,583.40 L556.56,584.82 L557.90,586.24 L559.24,587.66 L560.58,589.08 L561.93,590.50 L563.28,591.92 L564.64,593.35 L565.99,594.78 L567.34,596.22 L568.69,597.67 L570.03,599.12 L571.37,600.58 L572.70,602.04 L574.04,603.50 L575.38,604.95 L576.73,606.37 L578.10,607.76 L579.48,609.10 L580.88,610.40 L582.31,611.63 L583.76,612.80 L585.25,613.89 L586.78,614.88 L588.35,615.79 L589.97,616.58 L591.63,617.26 L593.35,617.82 L595.11,618.26 L596.93,618.59 L598.78,618.82 L600.67,618.96 L602.59,619.02 L604.54,619.02 L606.50,618.95 L608.48,618.84 L610.48,618.68 L612.48,618.50 L614.48,618.29 L616.47,618.08 L618.46,617.86 L620.43,617.65 L622.39,617.46 L624.32,617.30 L626.23,617.18 L628.11,617.10 L629.97,617.06 L631.82,617.08 L633.66,617.15 L635.48,617.28 L637.30,617.49 L639.11,617.76 L640.92,618.11 L642.73,618.54 L644.53,619.03 L646.32,619.59 L648.11,620.22 L649.90,620.90 L651.67,621.64 L653.44,622.43 L655.19,623.28 L656.93,624.17 L658.67,625.09 L660.39,626.06 L662.11,627.04 L663.82,628.05 L665.53,629.07 L667.23,630.09 L668.94,631.11 L670.64,632.13 L672.35,633.13 L674.06,634.10 L675.77,635.05 L677.50,635.97 L679.23,636.84 L680.97,637.66 L682.73,638.43 L684.49,639.14 L686.27,639.77 L688.07,640.34 L689.88,640.83 L691.71,641.27 L693.55,641.64 L695.40,641.96 L697.26,642.23 L699.13,642.45 L701.01,642.62 L702.90,642.76 L704.80,642.87 L706.70,642.95 L708.61,643.00 L710.52,643.03 L712.44,643.04 L714.36,643.04 L716.28,643.03 L718.21,643.02 L720.13,643.01 L722.05,643.00 L723.97,642.99 L725.90,642.98 L727.82,642.97 L729.74,642.96 L731.66,642.96 L733.58,642.96 L735.50,642.95 L737.43,642.95 L739.35,642.95 L741.27,642.96 L743.19,642.96 L745.11,642.96 L747.03,642.97 L748.95,642.97 L750.87,642.98 L752.79,642.99 L754.71,643.00 L756.63,643.01 L758.55,643.02 L760.47,643.03 L762.39,643.04 L764.31,643.06 L766.23,643.07 L768.15,643.09 L770.07,643.10 L771.99,643.12 L773.91,643.14 L775.83,643.16 L777.74,643.18 L779.66,643.20 L781.58,643.22 L783.50,643.24 L785.42,643.26 L787.34,643.28 L789.25,643.31 L791.17,643.33 L793.09,643.36 L795.01,643.38 L796.93,643.41 L798.84,643.44 L800.76,643.46 L802.68,643.49 L804.60,643.52 L806.51,643.55 L808.43,643.58 L810.35,643.61 L812.26,643.64 L814.18,643.67 L816.10,643.70 L818.02,643.73 L819.93,643.76 L821.85,643.79 L823.77,643.82 L825.68,643.86 L827.60,643.89 L829.52,643.92 L831.43,643.96 L833.35,643.99 L835.27,644.02 L837.18,644.06 L839.10,644.09 L841.02,644.12 L842.93,644.16 L844.85,644.19 L846.77,644.23 L848.68,644.26 L850.60,644.30 L852.52,644.33 L854.43,644.37 L856.35,644.40 L858.27,644.43 L860.18,644.47 L862.10,644.50 L864.02,644.54 L865.93,644.57 L867.85,644.60 L869.77,644.64 L871.68,644.67 L873.60,644.70 L875.51,644.74 L877.43,644.77 L879.35,644.80 L881.26,644.84 L883.18,644.87 L885.10,644.90 L887.01,644.93 L888.93,644.96 L890.85,644.99 L892.77,645.02 L894.68,645.05 L896.60,645.08 L898.52,645.11 L900.43,645.14 L902.35,645.17 L904.27,645.19 L906.18,645.22 L908.10,645.25 L910.02,645.27 L911.94,645.30 L913.85,645.32 L915.77,645.35 L917.69,645.37 L919.61,645.39 L921.52,645.41 L923.44,645.43 L925.36,645.45 L927.28,645.47 L929.20,645.49 L931.11,645.51 L933.03,645.53 L934.95,645.54 L936.87,645.56 L938.79,645.57 L940.71,645.59 L942.63,645.60 L944.54,645.61 L946.46,645.62 L948.38,645.63 L950.30,645.64 L952.22,645.65 L954.14,645.66 L956.06,645.66 L957.98,645.67 L959.90,645.67 L961.82,645.68 L963.74,645.68 L965.66,645.68 L967.58,645.68 L969.50,645.68 L971.42,645.67 L973.34,645.67 L975.26,645.66 L977.18,645.66 L979.11,645.65 L981.03,645.64" fill="none" stroke="#ff00ff" stroke-width="3.8" stroke-linejoin="round" stroke-linecap="round"/>
<path d="M149.03,645.36 L151.28,645.49 L153.54,645.58 L155.81,645.64 L158.09,645.66 L160.37,645.67 L162.65,645.64 L164.95,645.61 L167.24,645.55 L169.54,645.48 L171.84,645.41 L174.14,645.33 L176.44,645.25 L178.75,645.17 L181.05,645.10 L183.34,645.04 L185.64,644.99 L187.92,644.96 L190.21,644.95 L192.49,644.96 L194.76,645.00 L197.02,645.05 L199.29,645.12 L201.55,645.19 L203.81,645.28 L206.07,645.36 L208.33,645.44 L210.59,645.51 L212.86,645.56 L215.13,645.60 L217.41,645.61 L219.69,645.60 L221.99,645.56 L224.29,645.48 L226.61,645.36 L228.93,645.19 L231.26,644.98 L233.59,644.73 L235.92,644.42 L238.24,644.07 L240.54,643.66 L242.84,643.20 L245.11,642.68 L247.36,642.11 L249.58,641.47 L251.77,640.78 L253.92,640.02 L256.04,639.20 L258.11,638.31 L260.13,637.36 L262.11,636.33 L264.02,635.23 L265.88,634.06 L267.68,632.81 L269.40,631.49 L271.06,630.09 L272.66,628.62 L274.20,627.09 L275.67,625.48 L277.09,623.82 L278.45,622.09 L279.76,620.32 L281.02,618.48 L282.23,616.60 L283.39,614.68 L284.52,612.71 L285.60,610.70 L286.64,608.65 L287.64,606.57 L288.61,604.46 L289.55,602.33 L290.46,600.17 L291.34,597.99 L292.20,595.80 L293.03,593.59 L293.84,591.37 L294.64,589.14 L295.42,586.91 L296.19,584.67 L296.94,582.44 L297.68,580.21 L298.42,577.99 L299.14,575.76 L299.85,573.54 L300.55,571.32 L301.24,569.10 L301.93,566.88 L302.60,564.66 L303.26,562.44 L303.92,560.23 L304.56,558.02 L305.20,555.81 L305.83,553.59 L306.45,551.39 L307.06,549.18 L307.66,546.97 L308.26,544.76 L308.85,542.56 L309.43,540.35 L310.01,538.15 L310.58,535.94 L311.14,533.74 L311.69,531.53 L312.24,529.33 L312.79,527.13 L313.33,524.92 L313.86,522.72 L314.39,520.52 L314.91,518.31 L315.43,516.11 L315.94,513.91 L316.45,511.70 L316.96,509.50 L317.46,507.30 L317.96,505.09 L318.45,502.89 L318.94,500.68 L319.43,498.47 L319.92,496.26 L320.40,494.05 L320.88,491.84 L321.36,489.63 L321.84,487.42 L322.31,485.21 L322.78,482.99 L323.26,480.78 L323.73,478.56 L324.20,476.34 L324.67,474.12 L325.14,471.90 L325.61,469.67 L326.08,467.45 L326.54,465.22 L327.01,462.99 L327.49,460.76 L327.96,458.53 L328.43,456.29 L328.90,454.05 L329.38,451.81 L329.86,449.57 L330.34,447.32 L330.82,445.08 L331.30,442.83 L331.79,440.57 L332.27,438.32 L332.76,436.06 L333.25,433.81 L333.74,431.55 L334.23,429.29 L334.71,427.04 L335.20,424.78 L335.69,422.52 L336.17,420.27 L336.66,418.01 L337.14,415.76 L337.62,413.51 L338.09,411.26 L338.57,409.01 L339.04,406.77 L339.50,404.53 L339.97,402.29 L340.43,400.05 L340.88,397.82 L341.33,395.60 L341.77,393.38 L342.21,391.16 L342.64,388.95 L343.07,386.75 L343.51,384.55 L343.97,382.36 L344.47,380.17 L345.03,378.00 L345.66,375.84 L346.38,373.68 L347.21,371.54 L348.15,369.41 L349.23,367.30 L350.46,365.20 L351.86,363.13 L353.39,361.15 L355.03,359.33 L356.75,357.76 L358.52,356.51 L360.31,355.65 L362.10,355.26 L363.85,355.41 L365.55,356.08 L367.23,357.20 L368.88,358.68 L370.52,360.44 L372.16,362.40 L373.80,364.48 L375.46,366.60 L377.15,368.68 L378.88,370.64 L380.63,372.42 L382.40,373.94 L384.17,375.17 L385.93,376.03 L387.67,376.46 L389.37,376.42 L391.02,375.85 L392.60,374.80 L394.12,373.35 L395.57,371.57 L396.92,369.54 L398.19,367.34 L399.36,365.03 L400.42,362.70 L401.37,360.41 L402.22,358.16 L402.98,355.94 L403.67,353.74 L404.29,351.57 L404.87,349.41 L405.40,347.25 L405.92,345.10 L406.42,342.94 L406.93,340.77 L407.43,338.59 L407.92,336.39 L408.42,334.19 L408.91,331.99 L409.40,329.77 L409.89,327.55 L410.37,325.31 L410.85,323.08 L411.33,320.84 L411.79,318.59 L412.26,316.34 L412.71,314.08 L413.16,311.83 L413.61,309.57 L414.05,307.31 L414.47,305.05 L414.90,302.78 L415.31,300.52 L415.72,298.26 L416.11,296.00 L416.50,293.74 L416.88,291.48 L417.26,289.23 L417.63,286.97 L417.99,284.71 L418.35,282.46 L418.71,280.20 L419.06,277.95 L419.41,275.70 L419.75,273.44 L420.10,271.19 L420.44,268.94 L420.78,266.69 L421.12,264.44 L421.47,262.19 L421.81,259.94 L422.15,257.69 L422.50,255.44 L422.85,253.19 L423.20,250.94 L423.56,248.69 L423.92,246.44 L424.28,244.20 L424.65,241.95 L425.03,239.70 L425.41,237.45 L425.81,235.20 L426.20,232.95 L426.61,230.70 L427.03,228.45 L427.45,226.20 L427.89,223.95 L428.33,221.70 L428.79,219.44 L429.25,217.19 L429.72,214.94 L430.19,212.70 L430.67,210.45 L431.14,208.21 L431.62,205.97 L432.10,203.73 L432.58,201.50 L433.05,199.28 L433.52,197.06 L433.99,194.84 L434.45,192.63 L434.90,190.43 L435.37,188.23 L435.91,186.04 L436.55,183.85 L437.34,181.67 L438.31,179.50 L439.51,177.33 L440.94,175.25 L442.53,173.50 L444.23,172.30 L445.97,171.89 L447.70,172.44 L449.35,173.77 L450.87,175.59 L452.21,177.61 L453.35,179.69 L454.33,181.82 L455.17,183.99 L455.90,186.18 L456.55,188.39 L457.15,190.62 L457.72,192.85 L458.27,195.08 L458.78,197.31 L459.27,199.55 L459.74,201.80 L460.18,204.04 L460.60,206.29 L461.00,208.54 L461.39,210.80 L461.75,213.06 L462.10,215.32 L462.43,217.58 L462.75,219.84 L463.06,222.11 L463.36,224.37 L463.64,226.64 L463.92,228.91 L464.19,231.18 L464.45,233.45 L464.71,235.72 L464.97,237.99 L465.22,240.26 L465.47,242.54 L465.73,244.81 L465.98,247.08 L466.24,249.35 L466.50,251.62 L466.76,253.88 L467.03,256.15 L467.30,258.42 L467.58,260.68 L467.85,262.95 L468.13,265.21 L468.41,267.48 L468.70,269.74 L468.98,272.01 L469.27,274.27 L469.56,276.53 L469.85,278.79 L470.15,281.06 L470.44,283.32 L470.74,285.58 L471.03,287.84 L471.33,290.10 L471.63,292.36 L471.93,294.62 L472.23,296.88 L472.53,299.14 L472.83,301.40 L473.13,303.67 L473.43,305.93 L473.73,308.19 L474.03,310.45 L474.33,312.71 L474.63,314.97 L474.93,317.23 L475.22,319.50 L475.52,321.76 L475.81,324.02 L476.10,326.28 L476.40,328.55 L476.68,330.81 L476.97,333.08 L477.26,335.34 L477.54,337.61 L477.82,339.88 L478.10,342.14 L478.37,344.41 L478.65,346.68 L478.92,348.95 L479.19,351.22 L479.46,353.49 L479.72,355.76 L479.99,358.03 L480.25,360.30 L480.51,362.57 L480.77,364.85 L481.03,367.12 L481.29,369.39 L481.54,371.67 L481.80,373.94 L482.06,376.21 L482.31,378.49 L482.57,380.76 L482.82,383.04 L483.07,385.31 L483.33,387.59 L483.58,389.86 L483.83,392.14 L484.09,394.41 L484.34,396.69 L484.60,398.96 L484.85,401.24 L485.11,403.51 L485.37,405.79 L485.62,408.06 L485.88,410.33 L486.14,412.61 L486.40,414.88 L486.67,417.16 L486.93,419.43 L487.20,421.70 L487.47,423.97 L487.73,426.25 L488.01,428.52 L488.28,430.79 L488.55,433.06 L488.83,435.33 L489.11,437.60 L489.40,439.87 L489.68,442.14 L489.97,444.41 L490.26,446.68 L490.55,448.94 L490.85,451.21 L491.15,453.48 L491.46,455.74 L491.76,458.01 L492.07,460.27 L492.39,462.53 L492.71,464.79 L493.03,467.05 L493.36,469.31 L493.69,471.57 L494.02,473.83 L494.36,476.09 L494.70,478.35 L495.05,480.60 L495.40,482.86 L495.76,485.11 L496.12,487.36 L496.49,489.61 L496.87,491.86 L497.24,494.11 L497.63,496.36 L498.02,498.60 L498.41,500.85 L498.81,503.09 L499.22,505.33 L499.63,507.57 L500.05,509.81 L500.47,512.05 L500.91,514.29 L501.34,516.52 L501.79,518.76 L502.24,520.99 L502.70,523.22 L503.16,525.45 L503.63,527.68 L504.11,529.90 L504.60,532.13 L505.09,534.35 L505.59,536.57 L506.10,538.79 L506.62,541.00 L507.14,543.22 L507.67,545.43 L508.21,547.65 L508.76,549.85 L509.32,552.06 L509.89,554.27 L510.47,556.47 L511.06,558.67 L511.68,560.87 L512.31,563.06 L512.97,565.25 L513.65,567.43 L514.36,569.61 L515.10,571.79 L515.87,573.96 L516.68,576.12 L517.52,578.28 L518.40,580.43 L519.32,582.57 L520.29,584.71 L521.30,586.83 L522.37,588.93 L523.50,590.98 L524.69,592.99 L525.96,594.93 L527.30,596.79 L528.72,598.56 L530.23,600.24 L531.84,601.80 L533.54,603.23 L535.35,604.53 L537.27,605.67 L539.28,606.66 L541.37,607.48 L543.53,608.13 L545.73,608.60 L547.97,608.89 L550.23,608.98 L552.48,608.88 L554.74,608.58 L556.98,608.13 L559.22,607.54 L561.45,606.86 L563.67,606.11 L565.89,605.32 L568.10,604.52 L570.30,603.75 L572.49,603.04 L574.68,602.38 L576.85,601.77 L579.01,601.16 L581.15,600.53 L583.27,599.85 L585.36,599.08 L587.42,598.20 L589.45,597.19 L591.45,596.04 L593.44,594.81 L595.42,593.52 L597.41,592.23 L599.41,590.97 L601.45,589.78 L603.53,588.71 L605.66,587.79 L607.84,587.03 L610.06,586.43 L612.31,585.98 L614.58,585.68 L616.85,585.53 L619.13,585.53 L621.40,585.66 L623.65,585.93 L625.87,586.34 L628.05,586.87 L630.18,587.52 L632.26,588.30 L634.26,589.19 L636.21,590.20 L638.09,591.30 L639.92,592.50 L641.70,593.79 L643.44,595.15 L645.14,596.59 L646.81,598.08 L648.46,599.63 L650.08,601.23 L651.69,602.87 L653.29,604.53 L654.89,606.22 L656.49,607.92 L658.09,609.63 L659.71,611.34 L661.34,613.03 L663.00,614.72 L664.68,616.37 L666.39,618.00 L668.14,619.59 L669.91,621.15 L671.71,622.67 L673.53,624.15 L675.39,625.58 L677.26,626.96 L679.17,628.30 L681.09,629.58 L683.04,630.80 L685.01,631.96 L687.01,633.06 L689.02,634.09 L691.06,635.05 L693.12,635.94 L695.19,636.76 L697.29,637.51 L699.40,638.19 L701.52,638.81 L703.67,639.36 L705.83,639.85 L708.00,640.27 L710.18,640.63 L712.38,640.93 L714.59,641.18 L716.80,641.36 L719.03,641.48 L721.27,641.55 L723.51,641.56 L725.76,641.52 L728.02,641.42 L730.28,641.28 L732.55,641.08 L734.81,640.83 L737.09,640.53 L739.36,640.18 L741.63,639.79 L743.91,639.35 L746.18,638.87 L748.45,638.35 L750.72,637.78 L752.98,637.17 L755.24,636.52 L757.50,635.83 L759.75,635.11 L761.99,634.34 L764.22,633.55 L766.45,632.72 L768.67,631.88 L770.88,631.04 L773.08,630.19 L775.28,629.36 L777.47,628.55 L779.66,627.77 L781.85,627.04 L784.03,626.35 L786.20,625.72 L788.37,625.17 L790.54,624.70 L792.70,624.31 L794.87,624.03 L797.03,623.86 L799.19,623.80 L801.35,623.87 L803.50,624.07 L805.66,624.38 L807.82,624.79 L809.97,625.30 L812.13,625.89 L814.29,626.56 L816.45,627.29 L818.61,628.07 L820.77,628.90 L822.94,629.76 L825.10,630.65 L827.27,631.55 L829.44,632.46 L831.62,633.36 L833.80,634.25 L835.98,635.11 L838.17,635.93 L840.36,636.72 L842.56,637.45 L844.76,638.14 L846.97,638.79 L849.18,639.39 L851.39,639.95 L853.61,640.47 L855.83,640.96 L858.06,641.41 L860.29,641.82 L862.52,642.20 L864.76,642.54 L867.00,642.86 L869.25,643.14 L871.49,643.40 L873.74,643.63 L876.00,643.84 L878.25,644.02 L880.51,644.18 L882.78,644.31 L885.04,644.43 L887.31,644.53 L889.58,644.61 L891.85,644.68 L894.12,644.73 L896.40,644.77 L898.68,644.80 L900.96,644.82 L903.24,644.83 L905.52,644.84 L907.80,644.84 L910.09,644.83 L912.38,644.82 L914.67,644.81 L916.96,644.80 L919.25,644.80 L921.54,644.79 L923.83,644.78 L926.12,644.78 L928.41,644.78 L930.71,644.77 L933.00,644.77 L935.29,644.77 L937.59,644.77 L939.88,644.77 L942.17,644.78 L944.47,644.78 L946.76,644.78 L949.05,644.79 L951.34,644.79 L953.63,644.80 L955.91,644.81 L958.20,644.81 L960.48,644.82 L962.77,644.83 L965.05,644.84 L967.33,644.85 L969.61,644.86 L971.88,644.87 L974.15,644.88 L976.42,644.90 L978.69,644.91 L980.96,644.92" fill="none" stroke="#008000" stroke-width="3.8" stroke-linejoin="round" stroke-linecap="round"/>
</g>
<text x="121.22" y="691.40" font-size="33.3" transform="translate(0,691.40) scale(1,1.035) translate(0,-691.40)">200</text>
<text x="240.19" y="691.40" font-size="33.3" transform="translate(0,691.40) scale(1,1.035) translate(0,-691.40)">250</text>
<text x="359.16" y="691.40" font-size="33.3" transform="translate(0,691.40) scale(1,1.035) translate(0,-691.40)">300</text>
<text x="478.13" y="691.40" font-size="33.3" transform="translate(0,691.40) scale(1,1.035) translate(0,-691.40)">350</text>
<text x="597.11" y="691.40" font-size="33.3" transform="translate(0,691.40) scale(1,1.035) translate(0,-691.40)">400</text>
<text x="716.08" y="691.40" font-size="33.3" transform="translate(0,691.40) scale(1,1.035) translate(0,-691.40)">450</text>
<text x="835.05" y="691.40" font-size="33.3" transform="translate(0,691.40) scale(1,1.035) translate(0,-691.40)">500</text>
<text x="954.02" y="691.40" font-size="33.3" transform="translate(0,691.40) scale(1,1.035) translate(0,-691.40)">550</text>
<text x="82.31" y="654.20" font-size="33.3" transform="translate(0,654.20) scale(1,1.035) translate(0,-654.20)">0.0</text>
<text x="82.31" y="531.84" font-size="33.3" transform="translate(0,531.84) scale(1,1.035) translate(0,-531.84)">0.5</text>
<path transform="translate(82.31,409.48) scale(33.3,-33.3)" d="M0.373,0 L0.285,0 L0.285,0.560 C0.264,0.540 0.236,0.519 0.202,0.499 C0.168,0.479 0.137,0.464 0.109,0.454 L0.109,0.539 C0.158,0.562 0.201,0.590 0.238,0.624 C0.275,0.657 0.301,0.689 0.317,0.720 L0.373,0.720 Z" fill="#000"/><text x="100.83" y="409.48" font-size="33.3" transform="translate(0,409.48) scale(1,1.035) translate(0,-409.48)">.0</text>
<path transform="translate(82.31,287.12) scale(33.3,-33.3)" d="M0.373,0 L0.285,0 L0.285,0.560 C0.264,0.540 0.236,0.519 0.202,0.499 C0.168,0.479 0.137,0.464 0.109,0.454 L0.109,0.539 C0.158,0.562 0.201,0.590 0.238,0.624 C0.275,0.657 0.301,0.689 0.317,0.720 L0.373,0.720 Z" fill="#000"/><text x="100.83" y="287.12" font-size="33.3" transform="translate(0,287.12) scale(1,1.035) translate(0,-287.12)">.5</text>
<text x="82.31" y="164.76" font-size="33.3" transform="translate(0,164.76) scale(1,1.035) translate(0,-164.76)">2.0</text>
<text x="82.31" y="42.40" font-size="33.3" transform="translate(0,42.40) scale(1,1.035) translate(0,-42.40)">2.5</text>
<text x="566.5" y="759.7" text-anchor="middle" font-size="46.6">Wavelength (nm)</text>
<text transform="translate(54.0,369.7) rotate(-90)" text-anchor="middle" font-size="46.45">Intensity (Arbitrary Units)</text>

<line x1="646.1" y1="101.10" x2="733.2" y2="101.10" stroke="#000000" stroke-width="3.8" stroke-linecap="round"/>
<path transform="translate(743.70,114.10) scale(39.3,-39.3)" d="M0.384,0 L0.244,0 L0.244,0.499 C0.20,0.472 0.12,0.425 0.062,0.400 L0.062,0.534 C0.13,0.56 0.21,0.62 0.240,0.67 C0.255,0.69 0.27,0.705 0.288,0.711 L0.384,0.711 Z" fill="#000"/>
<text x="765.55" y="94.50" font-size="23.8" transform="translate(0,94.50) scale(1,1.035) translate(0,-94.50)">LS</text>
<text x="804.20" y="114.10" font-size="39.3">(</text><path transform="translate(817.29,114.10) scale(39.3,-39.3)" d="M0.373,0 L0.285,0 L0.285,0.560 C0.264,0.540 0.236,0.519 0.202,0.499 C0.168,0.479 0.137,0.464 0.109,0.454 L0.109,0.539 C0.158,0.562 0.201,0.590 0.238,0.624 C0.275,0.657 0.301,0.689 0.317,0.720 L0.373,0.720 Z" fill="#000"/><text x="839.14" y="114.10" font-size="39.3">-bip)</text>
<line x1="646.1" y1="154.80" x2="733.2" y2="154.80" stroke="#ff0000" stroke-width="3.8" stroke-linecap="round"/>
<text x="743.70" y="167.20" font-size="39.3" font-weight="bold" transform="translate(0,167.20) scale(1,1.035) translate(0,-167.20)">2</text>
<text x="765.55" y="147.60" font-size="23.8" transform="translate(0,147.60) scale(1,1.035) translate(0,-147.60)">LS</text>
<text x="804.20" y="167.20" font-size="39.3">(</text><path transform="translate(817.29,167.20) scale(39.3,-39.3)" d="M0.373,0 L0.285,0 L0.285,0.560 C0.264,0.540 0.236,0.519 0.202,0.499 C0.168,0.479 0.137,0.464 0.109,0.454 L0.109,0.539 C0.158,0.562 0.201,0.590 0.238,0.624 C0.275,0.657 0.301,0.689 0.317,0.720 L0.373,0.720 Z" fill="#000"/><text x="839.14" y="167.20" font-size="39.3">,2-bip)</text>
<line x1="646.1" y1="207.80" x2="733.2" y2="207.80" stroke="#0000ff" stroke-width="3.8" stroke-linecap="round"/>
<text x="743.70" y="220.30" font-size="39.3" font-weight="bold" transform="translate(0,220.30) scale(1,1.035) translate(0,-220.30)">3</text>
<text x="765.55" y="200.70" font-size="23.8" transform="translate(0,200.70) scale(1,1.035) translate(0,-200.70)">LS</text>
<text x="804.20" y="220.30" font-size="39.3">(2-bip)</text>
<line x1="646.1" y1="260.85" x2="733.2" y2="260.85" stroke="#ff00ff" stroke-width="3.8" stroke-linecap="round"/>
<text x="743.70" y="273.40" font-size="39.3" font-weight="bold" transform="translate(0,273.40) scale(1,1.035) translate(0,-273.40)">4</text>
<text x="765.55" y="253.80" font-size="23.8" transform="translate(0,253.80) scale(1,1.035) translate(0,-253.80)">LS</text>
<text x="804.20" y="273.40" font-size="39.3">(</text><path transform="translate(817.29,273.40) scale(39.3,-39.3)" d="M0.373,0 L0.285,0 L0.285,0.560 C0.264,0.540 0.236,0.519 0.202,0.499 C0.168,0.479 0.137,0.464 0.109,0.454 L0.109,0.539 C0.158,0.562 0.201,0.590 0.238,0.624 C0.275,0.657 0.301,0.689 0.317,0.720 L0.373,0.720 Z" fill="#000"/><text x="839.14" y="273.40" font-size="39.3">-ipp)</text>
<line x1="646.1" y1="313.85" x2="733.2" y2="313.85" stroke="#008000" stroke-width="3.8" stroke-linecap="round"/>
<text x="743.70" y="326.50" font-size="39.3" font-weight="bold" transform="translate(0,326.50) scale(1,1.035) translate(0,-326.50)">5</text>
<text x="765.55" y="306.90" font-size="23.8" transform="translate(0,306.90) scale(1,1.035) translate(0,-306.90)">LS</text>
<text x="804.20" y="326.50" font-size="39.3">(2-ipp)</text>

</svg>
</body></html>
